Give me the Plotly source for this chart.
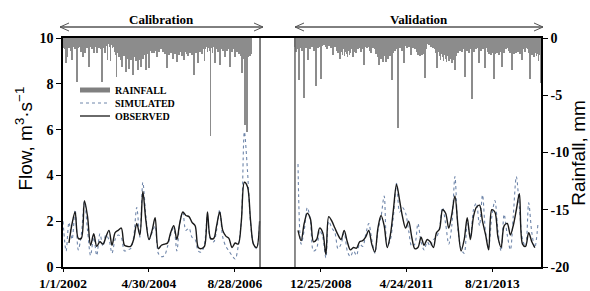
import pandas as pd
import plotly.graph_objects as go

# ---------------- data ----------------
cal_start = "2002-01-01"          # first calibration month
cal_end = "2007-05-05"            # calibration / validation separator (left)
val_start = "2008-04-15"          # first validation month
axis_end = "2014-12-15"

cal_observed = [None, None, 1.05, 1.9, 2.4, 1.25, 1.25, 2.9, 2.2, 0.95,
                1.45, 0.9, 1.1, 1.0, 1.3, 1.6, 0.95, 1.5, 1.6, 1.7,
                0.95, 0.9, 0.9, 1.2, 1.9, 1.4, 3.3, 2.0, 1.2, 1.6,
                2.15, 0.8, 0.95, 1.0, 1.05, 1.5, 1.8, 1.2, 1.9, 2.4,
                2.25, 2.2, 1.95, 1.8, 0.85, 0.8, 0.9, 2.4, 1.25, 1.25,
                1.8, 2.4, 1.6, 1.35, 1.25, 0.85, 1.05, 1.0, 2.0, 3.7,
                3.5, 2.0, 1.0, 0.85, 2.0]
cal_simulated = [2.0, 0.7, 1.95, 1.2, 2.5, 0.75, 1.4, 2.85, 1.6, 0.5,
                 1.3, 0.5, 1.45, 0.9, 1.4, 1.2, 0.6, 1.2, 1.4, 1.3,
                 0.7, 0.75, 0.8, 1.3, 2.6, 1.3, 3.7, 2.2, 1.2, 1.5,
                 1.8, 0.6, 0.45, 0.5, 0.9, 1.4, 1.7, 0.7, 1.9, 2.4,
                 1.6, 1.7, 1.3, 1.2, 0.7, 0.65, 1.0, 2.2, 1.2, 1.1,
                 1.6, 2.5, 1.3, 0.9, 0.7, 0.5, 0.35, 0.9, 2.0, 5.9,
                 4.2, 1.9, 1.0, 0.8, 2.0]

val_observed = [1.6, 1.15, 1.9, 2.35, 2.1, 1.1, 1.2, 1.7, 1.5, 0.55,
                2.2, 2.0, 1.7, 1.4, 1.2, 1.6, 1.1, 0.75, 0.85, 0.82,
                1.1, 1.15, 1.3, 1.6, 1.0, 0.65, 1.7, 2.25, 1.8, 0.85,
                1.4, 2.5, 3.6, 2.9, 2.2, 1.7, 2.0, 1.3, 0.8, 0.85,
                1.3, 0.95, 1.2, 1.1, 0.85, 1.5, 1.65, 2.5, 2.35, 1.7,
                2.3, 3.1, 1.75, 0.7, 1.2, 2.15, 1.2, 2.2, 2.6, 2.7,
                2.0, 1.4, 0.75, 2.5, 2.4, 1.3, 0.85, 1.8, 1.9, 1.4,
                1.8, 2.5, 3.2, 1.0, 0.9, 1.5, 1.1, 0.85, None]
val_simulated = [4.5, 1.0, 1.6, 2.6, 2.0, 0.7, 0.8, 1.6, 1.3, 0.4,
                 2.0, 1.7, 1.5, 0.8, 1.0, 1.5, 0.7, 0.45, 0.7, 0.5,
                 1.0, 0.9, 1.4, 1.9, 1.2, 0.6, 1.6, 2.2, 3.1, 0.9,
                 1.2, 2.2, 3.65, 2.4, 2.6, 2.35, 1.6, 0.9, 1.0, 1.9,
                 1.1, 0.75, 1.1, 0.9, 1.2, 1.3, 1.7, 2.6, 1.9, 1.0,
                 1.8, 3.95, 1.6, 0.8, 0.6, 1.9, 1.3, 2.5, 2.8, 1.8,
                 3.15, 1.5, 0.9, 2.2, 2.9, 1.6, 0.7, 2.3, 1.4, 0.75,
                 2.2, 3.95, 2.6, 1.2, 0.9, 2.8, 1.5, 0.85, 1.9]

# rainfall depth (mm), 10-day totals
cal_rain = [0.9, 0.6, 1.0, 2.2, 1.7, 0.7, 0.9, 0.5, 1.1, 1.9,
            0.8, 0.6, 1.0, 0.7, 3.8, 0.9, 0.5, 0.8, 1.2, 0.6,
            1.7, 0.7, 1.3, 0.6, 0.9, 0.5, 2.5, 0.8, 0.6, 1.0,
            0.7, 1.3, 0.5, 0.8, 1.3, 0.6, 0.9, 0.7, 1.0, 3.8,
            0.9, 0.6, 1.3, 0.7, 1.9, 0.5, 0.8, 2.0, 0.6, 0.9,
            0.8, 1.2, 1.5, 3.4, 1.3, 1.7, 1.1, 1.9, 2.5, 1.4,
            1.6, 1.2, 3.0, 1.8, 1.3, 2.7, 1.5, 1.9, 1.2, 3.2,
            1.7, 1.4, 2.0, 1.5, 2.8, 1.6, 1.9, 2.5, 1.3, 1.8,
            1.5, 1.2, 2.8, 1.4, 1.0, 2.6, 1.1, 0.8, 1.3, 0.9,
            1.3, 0.8, 1.1, 1.7, 0.9, 1.2, 0.7, 1.0, 0.8, 1.2,
            1.0, 1.4, 0.9, 2.6, 1.2, 1.5, 1.0, 1.3, 0.9, 1.8,
            1.1, 1.4, 1.0, 2.1, 1.3, 1.5, 1.0, 1.2, 1.6, 1.1,
            1.9, 1.2, 1.0, 1.4, 1.6, 1.1, 1.3, 0.9, 1.5, 1.2,
            3.2, 1.1, 1.3, 0.9, 2.2, 1.0, 1.2, 0.8, 1.4, 1.0,
            2.0, 1.0, 0.8, 1.2, 0.9, 1.1, 8.6, 0.9, 1.3, 0.8,
            2.2, 1.0, 0.8, 1.2, 0.9, 2.4, 1.0, 0.7, 1.1, 0.9,
            1.7, 0.8, 1.1, 0.7, 1.0, 2.5, 0.9, 1.2, 0.8, 1.0,
            1.7, 0.9, 1.2, 0.8, 1.4, 1.1, 1.6, 3.1, 1.5, 1.8,
            7.6, 1.8, 8.2, 1.7, 1.5, 1.6, 1.4]
val_rain = [0.8, 1.2, 0.6, 1.0, 3.7, 0.9, 0.5, 1.1, 0.7, 5.2,
            0.6, 0.9, 0.4, 1.9, 0.7, 1.0, 0.5, 0.8, 0.6, 1.1,
            0.7, 4.2, 0.6, 0.9, 0.5, 0.8, 3.6, 0.7, 0.4, 0.6,
            0.5, 0.8, 1.0, 0.4, 0.7, 0.5, 0.9, 0.6, 1.5, 0.5,
            0.8, 0.6, 1.1, 1.3, 0.9, 1.8, 1.2, 1.5, 1.0, 1.6,
            1.2, 1.4, 1.7, 1.1, 1.5, 1.3, 1.0, 1.7, 1.2, 0.9,
            1.3, 0.8, 1.0, 0.6, 0.9, 1.2, 0.7, 1.0, 2.4, 0.8,
            0.6, 0.9, 0.5, 0.8, 1.1, 1.3, 0.7, 0.9, 0.6, 1.0,
            1.4, 1.2, 1.7, 2.4, 1.5, 1.8, 1.3, 2.1, 1.6, 1.2,
            2.1, 1.5, 1.8, 1.2, 1.6, 1.0, 3.7, 1.3, 0.9, 1.1,
            0.8, 1.0, 7.9, 0.7, 0.9, 0.6, 1.1, 0.8, 2.2, 0.7,
            0.5, 0.9, 0.6, 0.8, 0.5, 1.5, 0.7, 0.9, 0.6, 1.0,
            0.8, 1.2, 1.5, 1.4, 1.6, 1.3, 1.5, 1.2, 1.4, 3.5,
            1.0, 0.5, 0.3, 0.6, 0.4, 0.8, 0.5, 0.9, 0.7, 1.0,
            1.3, 2.6, 1.2, 1.6, 1.9, 1.4, 1.7, 2.0, 1.5, 1.8,
            2.1, 1.6, 2.0, 1.4, 1.8, 2.2, 1.5, 1.9, 2.8, 1.6,
            1.0, 1.3, 0.8, 1.1, 0.7, 1.2, 0.9, 1.0, 3.4, 0.8,
            1.1, 0.7, 1.3, 0.9, 1.0, 5.3, 0.8, 1.2, 0.7, 1.0,
            0.6, 0.9, 2.2, 0.8, 1.1, 0.7, 1.0, 0.9, 2.6, 0.7,
            0.9, 1.2, 1.4, 1.1, 1.5, 1.3, 1.2, 3.6, 1.4, 1.1,
            1.3, 1.0, 1.5, 1.2, 0.9, 2.5, 1.1, 1.3, 0.8, 1.0,
            0.7, 0.9, 1.1, 1.3, 1.0, 2.8, 1.2, 1.4, 1.1, 1.3,
            1.0, 1.2, 0.9, 1.4, 1.1, 1.9, 1.0, 0.8, 1.2, 0.7,
            0.9, 1.0, 1.3, 3.6, 1.2, 1.5, 1.1, 1.7, 1.3, 1.6,
            1.4, 2.0, 1.5, 3.9, 1.8, 2.2]

x_tick_dates = ["2002-01-01", "2004-04-30", "2006-08-28",
                "2008-12-25", "2011-04-24", "2013-08-21"]
x_tick_labels = ["1/1/2002", "4/30/2004", "8/28/2006",
                 "12/25/2008", "4/24/2011", "8/21/2013"]
flow_ticks = [0, 2, 4, 6, 8, 10]
rain_ticks = [-20, -15, -10, -5, 0]
rain_tick_labels = ["-20", "-15", "-10", "-5", "0"]
period_labels = ["Calibration", "Validation"]
legend_labels = ["RAINFALL", "SIMULATED", "OBSERVED"]

# ---------------- styles ----------------
SERIF = "Liberation Serif"
SANS = "Liberation Sans"
RAIN_C = "#8c8c8c"
SIM_C = "#6f86aa"
OBS_C = "#1a1a1a"

cal_dates = pd.date_range(cal_start, periods=len(cal_observed), freq="MS")
val_dates = pd.date_range(val_start, periods=len(val_observed), freq="MS") + pd.Timedelta(days=14)
cal_rain_dates = pd.date_range(cal_start, periods=len(cal_rain), freq="10D")
val_rain_dates = pd.date_range(val_start, periods=len(val_rain), freq="10D")

fig = go.Figure()

rain_x = list(cal_rain_dates) + list(val_rain_dates)
rain_y = [-v for v in cal_rain + val_rain]
fig.add_trace(go.Bar(x=rain_x, y=rain_y, yaxis="y2", name=legend_labels[0],
                     marker=dict(color=RAIN_C, line=dict(width=0)),
                     width=9 * 86400000, showlegend=False))

for dates, sim, obs in [(cal_dates, cal_simulated, cal_observed),
                        (val_dates, val_simulated, val_observed)]:
    fig.add_trace(go.Scatter(x=dates, y=sim, mode="lines", name=legend_labels[1],
                             line=dict(color=SIM_C, width=1.1, dash="dot", shape="spline", smoothing=0.9),
                             showlegend=False))
    fig.add_trace(go.Scatter(x=dates, y=obs, mode="lines", name=legend_labels[2],
                             line=dict(color=OBS_C, width=1.4, shape="spline", smoothing=0.9),
                             showlegend=False))

tickfont = dict(family=SERIF, size=14, color="black", weight="bold")
xtickfont = dict(family=SERIF, size=13.5, color="black", weight="bold")

fig.update_layout(
    width=590, height=291,
    margin=dict(l=63, r=49, t=38, b=24, autoexpand=False),
    paper_bgcolor="white", plot_bgcolor="white",
    showlegend=False, bargap=0,
    xaxis=dict(type="date", range=[cal_start, axis_end],
               tickvals=x_tick_dates, ticktext=x_tick_labels,
               showline=True, linecolor="black", linewidth=1.5, mirror=True,
               ticks="outside", ticklen=3, tickcolor="black", tickwidth=1,
               showgrid=False, zeroline=False, tickfont=xtickfont, automargin=False),
    yaxis=dict(range=[0, 10], tickvals=flow_ticks,
               showline=True, linecolor="black", linewidth=1.5,
               ticks="outside", ticklen=5, tickcolor="black",
               showgrid=False, zeroline=False, tickfont=tickfont, automargin=False),
    yaxis2=dict(range=[-20, 0], overlaying="y", side="right",
                tickvals=rain_ticks, ticktext=rain_tick_labels,
                showline=True, linecolor="black", linewidth=1.5,
                ticks="outside", ticklen=5, tickcolor="black",
                showgrid=False, zeroline=False, tickfont=tickfont, automargin=False),
)

# separators between periods
for d, c in [(cal_end, "#555555"), (val_start, "#666666")]:
    fig.add_shape(type="line", xref="x", yref="paper", x0=d, x1=d, y0=0, y1=1,
                  line=dict(color=c, width=1.5))

# axis titles
fig.add_annotation(text="Flow, m<sup>3</sup>·s<sup>−1</sup>", textangle=-90,
                   xref="paper", yref="paper", x=-0.082, y=0.56,
                   xanchor="center", yanchor="middle", showarrow=False,
                   font=dict(family=SANS, size=19, color="black"))
fig.add_annotation(text="Rainfall, mm", textangle=-90,
                   xref="paper", yref="paper", x=1.078, y=0.50,
                   xanchor="center", yanchor="middle", showarrow=False,
                   font=dict(family=SANS, size=19, color="black"))

# period arrows
def px(x):
    return (x - 63) / 478.0

def py(y):
    return (267 - y) / 229.0

for label, x0, x1 in [(period_labels[0], 60, 263), (period_labels[1], 295, 543)]:
    ya = py(27)
    fig.add_shape(type="line", xref="paper", yref="paper", x0=px(x0), x1=px(x1), y0=ya, y1=ya,
                  line=dict(color="black", width=1))
    for tip, d in [(x0, 1), (x1, -1)]:
        fig.add_shape(type="path", xref="paper", yref="paper",
                      path=f"M {px(tip + 9 * d)},{py(23)} L {px(tip)},{ya} L {px(tip + 9 * d)},{py(31)}",
                      line=dict(color="#555555", width=1))
    fig.add_annotation(text=f"<b>{label}</b>", xref="paper", yref="paper",
                       x=px((x0 + x1) / 2), y=py(19.5), showarrow=False,
                       xanchor="center", yanchor="middle",
                       font=dict(family=SERIF, size=13, color="black"))

# legend (drawn manually to reproduce the compact spacing)
leg_rows = [90, 103, 116]
fig.add_shape(type="rect", xref="paper", yref="paper", x0=px(80), x1=px(110),
              y0=py(leg_rows[0] - 2.5), y1=py(leg_rows[0] + 2.5),
              fillcolor="#808080", line=dict(width=0))
fig.add_shape(type="line", xref="paper", yref="paper", x0=px(80), x1=px(110),
              y0=py(leg_rows[1]), y1=py(leg_rows[1]), line=dict(color=SIM_C, width=1, dash="dot"))
fig.add_shape(type="line", xref="paper", yref="paper", x0=px(80), x1=px(110),
              y0=py(leg_rows[2]), y1=py(leg_rows[2]), line=dict(color=OBS_C, width=1.3))
for lab, yy in zip(legend_labels, leg_rows):
    fig.add_annotation(text=f"<b>{lab}</b>", xref="paper", yref="paper",
                       x=px(114), y=py(yy), showarrow=False,
                       xanchor="left", yanchor="middle", borderpad=0,
                       font=dict(family=SERIF, size=10, color="black"))

fig.write_html("out.html", config={"displayModeBar": False},
               post_script="document.body.style.margin='0';document.body.style.padding='0';")
